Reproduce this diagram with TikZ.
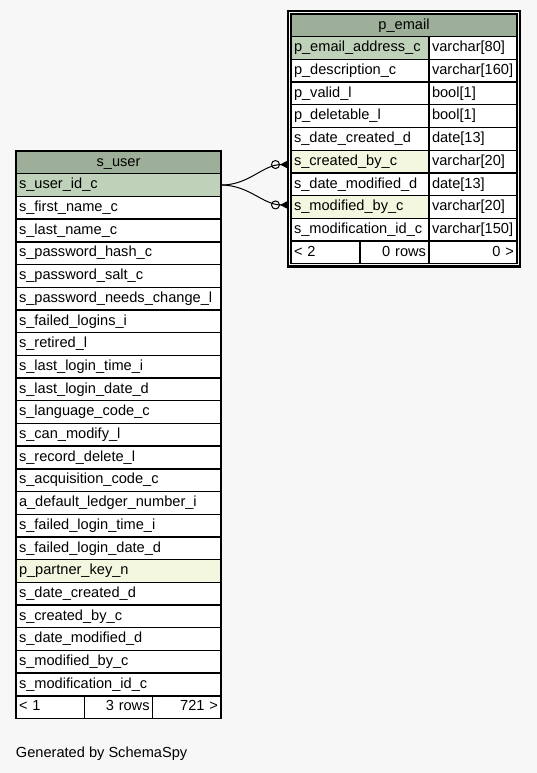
\documentclass[tikz,border=0pt]{standalone}
\usepackage{fontspec}
\setmainfont{Liberation Sans}
\usetikzlibrary{positioning,arrows.meta}
\definecolor{bggray}{HTML}{F7F7F7}
\definecolor{headgreen}{HTML}{9DAF98}
\definecolor{keygreen}{HTML}{BFD1B9}
\definecolor{fkyellow}{HTML}{F4F7DF}
\begin{document}
\begin{tikzpicture}[
        x=1pt, y=-1pt,
        every node/.style={font=\fontsize{14.6}{17}\selectfont, inner sep=0pt, outer sep=0pt},
        cell/.style={draw, line width=1.4pt, fill=white, minimum height=22.7pt,
            text height=10.5pt, text depth=3pt, inner xsep=3pt, align=left},
        head/.style={cell, fill=headgreen, align=center},
        ucol/.style={cell, text width=199pt},
        ecol/.style={cell, text width=132pt},
        tcol/.style={cell, text width=82pt},
        pk/.style={fill=keygreen},
        fk/.style={fill=fkyellow},
        ufoot/.style={cell, text width=62.3pt},
        efoot/.style={cell, text width=63pt},
        frame/.style={draw, line width=2.5pt},
        rel/.style={draw, line width=1pt, shorten >=3pt,
            -{Circle[open, length=9pt] Triangle[reversed, length=8pt, width=8pt]}},
    ]
    \path[use as bounding box, fill=bggray] (0,0) rectangle (537,773);

    % s_user table
    \node[head, minimum width=205pt, anchor=north west] (user) at (16,151) {s\_user};
    \node[ucol, pk, below=0pt of user] (u1) {s\_user\_id\_c};
    \node[ucol, below=0pt of u1] (u2) {s\_first\_name\_c};
    \node[ucol, below=0pt of u2] (u3) {s\_last\_name\_c};
    \node[ucol, below=0pt of u3] (u4) {s\_password\_hash\_c};
    \node[ucol, below=0pt of u4] (u5) {s\_password\_salt\_c};
    \node[ucol, below=0pt of u5] (u6) {s\_password\_needs\_change\_l};
    \node[ucol, below=0pt of u6] (u7) {s\_failed\_logins\_i};
    \node[ucol, below=0pt of u7] (u8) {s\_retired\_l};
    \node[ucol, below=0pt of u8] (u9) {s\_last\_login\_time\_i};
    \node[ucol, below=0pt of u9] (u10) {s\_last\_login\_date\_d};
    \node[ucol, below=0pt of u10] (u11) {s\_language\_code\_c};
    \node[ucol, below=0pt of u11] (u12) {s\_can\_modify\_l};
    \node[ucol, below=0pt of u12] (u13) {s\_record\_delete\_l};
    \node[ucol, below=0pt of u13] (u14) {s\_acquisition\_code\_c};
    \node[ucol, below=0pt of u14] (u15) {a\_default\_ledger\_number\_i};
    \node[ucol, below=0pt of u15] (u16) {s\_failed\_login\_time\_i};
    \node[ucol, below=0pt of u16] (u17) {s\_failed\_login\_date\_d};
    \node[ucol, fk, below=0pt of u17] (u18) {p\_partner\_key\_n};
    \node[ucol, below=0pt of u18] (u19) {s\_date\_created\_d};
    \node[ucol, below=0pt of u19] (u20) {s\_created\_by\_c};
    \node[ucol, below=0pt of u20] (u21) {s\_date\_modified\_d};
    \node[ucol, below=0pt of u21] (u22) {s\_modified\_by\_c};
    \node[ucol, below=0pt of u22] (u23) {s\_modification\_id\_c};
    \node[ufoot, anchor=north west] (uf1) at (u23.south west) {< 1};
    \node[ufoot, align=right, right=0pt of uf1] (uf2) {3 rows};
    \node[ufoot, align=right, right=0pt of uf2] (uf3) {721 >};

    % p_email table
    \node[head, minimum width=226pt, anchor=north west] (email) at (291,14) {p\_email};
    \node[ecol, pk, anchor=north west] (e1) at (email.south west) {p\_email\_address\_c};
    \node[ecol, below=0pt of e1] (e2) {p\_description\_c};
    \node[ecol, below=0pt of e2] (e3) {p\_valid\_l};
    \node[ecol, below=0pt of e3] (e4) {p\_deletable\_l};
    \node[ecol, below=0pt of e4] (e5) {s\_date\_created\_d};
    \node[ecol, fk, below=0pt of e5] (e6) {s\_created\_by\_c};
    \node[ecol, below=0pt of e6] (e7) {s\_date\_modified\_d};
    \node[ecol, fk, below=0pt of e7] (e8) {s\_modified\_by\_c};
    \node[ecol, below=0pt of e8] (e9) {s\_modification\_id\_c};
    \node[tcol, right=0pt of e1] (t1) {varchar[80]};
    \node[tcol, right=0pt of e2] (t2) {varchar[160]};
    \node[tcol, right=0pt of e3] (t3) {bool[1]};
    \node[tcol, right=0pt of e4] (t4) {bool[1]};
    \node[tcol, right=0pt of e5] (t5) {date[13]};
    \node[tcol, right=0pt of e6] (t6) {varchar[20]};
    \node[tcol, right=0pt of e7] (t7) {date[13]};
    \node[tcol, right=0pt of e8] (t8) {varchar[20]};
    \node[tcol, right=0pt of e9] (t9) {varchar[150]};
    \node[efoot, anchor=north west] (ef1) at (e9.south west) {< 2};
    \node[efoot, align=right, right=0pt of ef1] (ef2) {0 rows};
    \node[tcol, align=right, right=0pt of ef2] (ef3) {0 >};
    \draw[frame] ([shift={(-3,-3)}]email.north west) rectangle ([shift={(3,3)}]ef3.south east);

    % relationships
    \draw[rel] (u1.east) to[out=0, in=180] ([yshift=-3pt]e6.west);
    \draw[rel] (u1.east) to[out=0, in=180] ([yshift=2pt]e8.west);

    \node[anchor=base west] (gen) at (16,757) {Generated by SchemaSpy};
\end{tikzpicture}
\end{document}
